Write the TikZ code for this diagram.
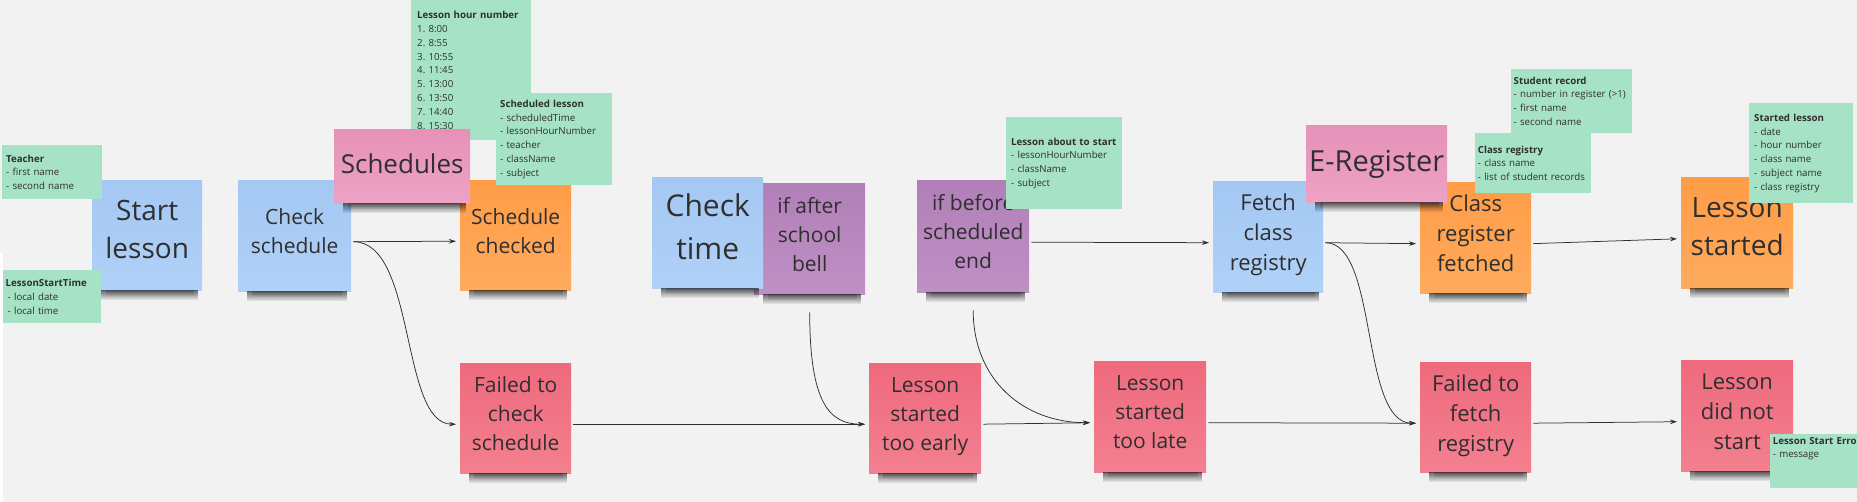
\documentclass[tikz,border=0pt]{standalone}
\usepackage{fontspec}
\setmainfont{Open Sans}
\usetikzlibrary{arrows.meta,fadings}
\frenchspacing
\definecolor{canvasbg}{HTML}{F2F2F2}
\definecolor{ink}{HTML}{2F2F2F}
\definecolor{blueA}{HTML}{A4C8F3}
\definecolor{blueB}{HTML}{B0D1F7}
\definecolor{orangeA}{HTML}{FF9C47}
\definecolor{orangeB}{HTML}{FFAB5E}
\definecolor{redA}{HTML}{EE6A7D}
\definecolor{redB}{HTML}{F3808F}
\definecolor{pinkA}{HTML}{E791B8}
\definecolor{pinkB}{HTML}{EDA2C4}
\definecolor{purpleA}{HTML}{B17FB8}
\definecolor{purpleB}{HTML}{BE90C4}
\definecolor{notegreen}{HTML}{A6E2C5}
\tikzfading[name=shadowfade, top color=transparent!45, bottom color=transparent!100]
\newcommand\dropshade[1]{%
  \fill[black,path fading=shadowfade] ([xshift=9pt]#1.south west) rectangle ([xshift=-4pt,yshift=-10pt]#1.south east);
  \fill[black,opacity=.35,path fading=shadowfade] ([xshift=14pt]#1.south west) rectangle ([xshift=-8pt,yshift=-6pt]#1.south east);}
\begin{document}
\begin{tikzpicture}[x=1pt,y=-1pt,
  sticky/.style 2 args={anchor=north west, inner sep=0pt, align=center, text=ink,
    minimum width=#1pt, minimum height=#2pt},
  blue/.style={top color=blueA, bottom color=blueB},
  orange/.style={top color=orangeA, bottom color=orangeB},
  red/.style={top color=redA, bottom color=redB},
  pink/.style={top color=pinkA, bottom color=pinkB},
  purple/.style={top color=purpleA, bottom color=purpleB},
  f21/.style={font=\fontsize{21}{29}\selectfont},
  f22/.style={font=\fontsize{22}{30}\selectfont},
  f26/.style={font=\fontsize{26}{35}\selectfont},
  f28/.style={font=\fontsize{28}{38}\selectfont},
  f29/.style={font=\fontsize{29}{40}\selectfont},
  f30/.style={font=\fontsize{30}{43}\selectfont},
  note/.style n args={3}{anchor=north west, fill=notegreen, text=ink, align=left,
    inner ysep=0pt, inner xsep=#3pt, minimum width=#1pt, minimum height=#2pt,
    text width=#1pt-2*#3pt, font=\fontsize{9.7}{13.8}\selectfont},
  conn/.style={draw=ink, line width=0.75pt, -{Stealth[length=7pt,width=4.5pt]},
    shorten <=2pt, shorten >=4pt}
]
\useasboundingbox (0,0) rectangle (1857,502);
\clip (0,0) rectangle (1857,502);
\fill[canvasbg] (0,0) rectangle (1857,502);
\fill[white] (0,253) rectangle (3,502);

% sticky notes
\node[sticky={110}{110}, blue, f28] (startlesson) at (92,180) {Start\\lesson\strut};
\dropshade{startlesson}
\node[sticky={113}{111}, blue, f21] (checksched) at (238,180) {Check\\schedule\strut};
\dropshade{checksched}
\node[sticky={111}{110}, orange, f21] (schedchecked) at (460,180) {Schedule\\checked\strut};
\dropshade{schedchecked}
\node[sticky={111}{110}, red, f21] (failedcheck) at (460,363) {Failed to\\check\\schedule\strut};
\dropshade{failedcheck}
\node[sticky={111}{111}, purple, f21] (afterbell) at (754,183) {if after\\school\\bell\strut};
\dropshade{afterbell}
\node[sticky={111}{111}, blue, f30] (checktime) at (652,177) {Check\\time\strut};
\dropshade{checktime}
\node[sticky={112}{112}, purple, f21] (beforeend) at (917,180) {if before\\scheduled\\end\strut};
\dropshade{beforeend}
\node[sticky={112}{110}, red, f21] (tooearly) at (869,363) {Lesson\\started\\too early\strut};
\dropshade{tooearly}
\node[sticky={112}{111}, red, f21] (toolate) at (1094,361) {Lesson\\started\\too late\strut};
\dropshade{toolate}
\node[sticky={110}{111}, blue, f22] (fetch) at (1213,181) {Fetch\\class\\registry\strut};
\dropshade{fetch}
\node[sticky={111}{111}, orange, f22] (regfetched) at (1420,182) {Class\\register\\fetched\strut};
\dropshade{regfetched}
\node[sticky={111}{110}, red, f22] (failfetch) at (1420,362) {Failed to\\fetch\\registry\strut};
\dropshade{failfetch}
\node[sticky={112}{111}, orange, f28] (lessonstarted) at (1681,177) {Lesson\\started\strut};
\dropshade{lessonstarted}
\node[sticky={112}{111}, red, f22] (didnotstart) at (1681,360) {Lesson\\did not\\start\strut};
\dropshade{didnotstart}

% connectors
\draw[conn] ([yshift=-6pt]checksched.east) -- ([yshift=-6pt]schedchecked.west);
\draw[conn] ([yshift=-6pt]checksched.east) .. controls +(65,0) and +(-60,0) .. ([yshift=-6pt]failedcheck.west);
\draw[conn] ([yshift=-6pt]failedcheck.east) -- ([yshift=-6pt]tooearly.west);
\draw[conn, shorten <=0pt] ([yshift=-18pt]afterbell.south) .. controls +(0,90) and +(-40,0) .. ([yshift=-6pt]tooearly.west);
\draw[conn] ([yshift=-6pt]tooearly.east) -- ([yshift=-6pt]toolate.west);
\draw[conn, shorten <=0pt] ([yshift=-18pt]beforeend.south) .. controls +(0,70) and +(-70,0) .. ([yshift=-6pt]toolate.west);
\draw[conn] ([yshift=-6pt]beforeend.east) -- ([yshift=-6pt]fetch.west);
\draw[conn] ([yshift=-6pt]fetch.east) -- ([yshift=-6pt]regfetched.west);
\draw[conn] ([yshift=-6pt]fetch.east) .. controls +(55,0) and +(-60,0) .. ([yshift=-6pt]failfetch.west);
\draw[conn] ([yshift=-6pt]toolate.east) -- ([yshift=-6pt]failfetch.west);
\draw[conn] ([yshift=-6pt]regfetched.east) -- ([yshift=-6pt]lessonstarted.west);
\draw[conn] ([yshift=-6pt]failfetch.east) -- ([yshift=-6pt]didnotstart.west);

% data notes and labels
\node[note={100}{54}{4}] (teacher) at (2,145) {\textbf{Teacher}\\- first name\\- second name};
\node[note={98}{53}{2.5}] (starttime) at (3,270) {\textbf{LessonStartTime}\\\hspace*{2pt}- local date\\\hspace*{2pt}- local time};
\node[note={120}{140}{6}] (hours) at (411,0) {\textbf{Lesson hour number}\\1. 8:00\\2. 8:55\\3. 10:55\\4. 11:45\\5. 13:00\\6. 13:50\\7. 14:40\\8. 15:30};
\node[sticky={136}{74}, pink, f26] (schedules) at (334,129) {Schedules\strut};
\dropshade{schedules}
\node[note={116}{92}{4}] (schedlesson) at (496,93) {\textbf{Scheduled lesson}\\- scheduledTime\\- lessonHourNumber\\- teacher\\- className\\- subject};
\node[note={116}{92}{5}] (aboutstart) at (1006,117) {\mbox{\textbf{Lesson about to start}}\\- lessonHourNumber\\- className\\- subject};
\node[sticky={141}{77}, pink, f29] (eregister) at (1306,125) {E-Register\strut};
\dropshade{eregister}
\node[note={121}{64}{2.5}] (studentrec) at (1511,69) {\textbf{Student record}\\\mbox{- number in register (>1)}\\- first name\\- second name};
\node[note={116}{60}{2.7}] (classreg) at (1475,133) {\textbf{Class registry}\\- class name\\- list of student records};
\node[note={104}{100}{5}] (startedlesson) at (1749,103) {\textbf{Started lesson}\\- date\\- hour number\\- class name\\- subject name\\- class registry};
\node[note={110}{54}{2.7}] (starterror) at (1770,434) {\mbox{\textbf{Lesson Start Error}}\\- message\\~\\~};
\end{tikzpicture}
\end{document}
